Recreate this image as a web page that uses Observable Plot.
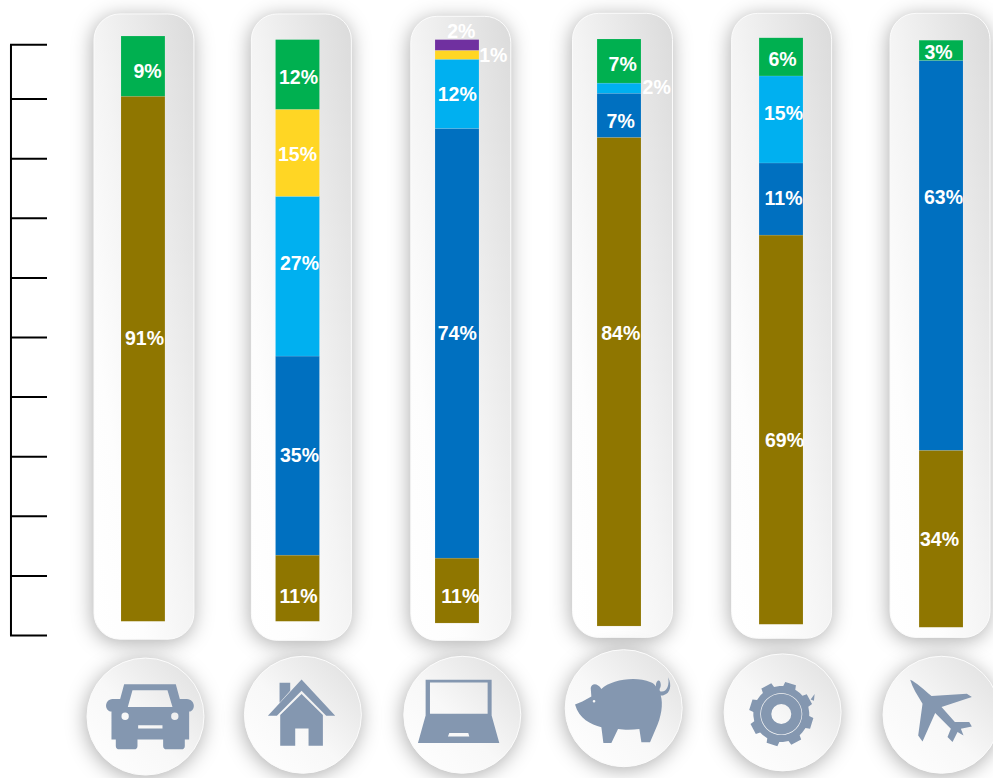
<!DOCTYPE html>
<html>
<head>
<meta charset="utf-8">
<script src="https://cdn.jsdelivr.net/npm/d3@7"></script>
<script src="https://cdn.jsdelivr.net/npm/@observablehq/plot@0.6"></script>
<style>
  html, body { margin: 0; padding: 0; background: #fff; overflow: hidden; }
  g[fill="url(#panelGrad)"] rect, g[fill="url(#badgeGrad)"] circle { filter: drop-shadow(-1px 3px 10px rgba(0,0,0,.32)); }
  g[fill="#8497B0"] path { fill-rule: evenodd; }
</style>
</head>
<body>
<div id="chart"></div>
<script>
// Categories (shown only as icons)
const categories = ["car", "home", "computer", "savings", "services", "travel"];

// Segment heights read against the left scale, bottom to top of each column
const seriesNames = ["series A", "series B", "series C", "series D", "series E", "series F"];
const seriesColors = ["#8F7600", "#0070C0", "#00B0F0", "#FFD624", "#7030A0", "#00B050"];
const baseline = [2.3, 2.3, 2.0, 1.5, 1.8, 1.3];
const seriesA = [88.1, 11.1, 10.9, 82.0, 65.3, 29.7];
const seriesB = [0, 33.4, 72.1, 7.4, 12.1, 65.4];
const seriesC = [0, 26.8, 11.6, 1.7, 14.6, 0];
const seriesD = [0, 14.6, 1.5, 0, 0, 0];
const seriesE = [0, 0, 1.8, 0, 0, 0];
const seriesF = [10.1, 11.7, 0, 7.4, 6.4, 3.4];
const seriesValues = [seriesA, seriesB, seriesC, seriesD, seriesE, seriesF];

// Printed labels per column
const labelText = [
  ["9%", "91%"],
  ["12%", "15%", "27%", "35%", "11%"],
  ["2%", "1%", "12%", "74%", "11%"],
  ["7%", "2%", "7%", "84%"],
  ["6%", "15%", "11%", "69%"],
  ["3%", "63%", "34%"]
];
const labelLevel = [
  [94.6, 49.8],
  [93.5, 80.7, 62.4, 30.2, 6.5],
  [101.3, 97.3, 90.8, 50.7, 6.5],
  [95.8, 91.9, 86.2, 50.7],
  [96.6, 87.6, 73.3, 32.7],
  [97.8, 73.5, 16.1]
];
const labelShift = [
  [4, 1],
  [-4.4, -5.4, -3.4, -3.4, -4.4],
  [-1, 31, -5, -5, -2],
  [1, 35, -1, -1],
  [1.4, 2.4, 2.4, 3.4],
  [-2, 3, -1]
];

// Scale ticks on the left
const tickValues = [0, 10, 20, 30, 40, 50, 60, 70, 80, 90, 99.1];

// Decoration extents, in scale units, and column nudges
const panelTop = [104.2, 104.2, 103.8, 104.3, 104.3, 104.3];
const panelBottom = [-0.7, -0.9, -0.9, -0.4, -0.55, -0.4];
const badgeLevel = [-13.6, -13.3, -13.3, -12.2, -12.9, -13.3];
const barNudge = [0, -4.9, -4.8, -2.2, 0.4, 1];
const panelNudge = [1, -1, -1, 1.3, 1, 0];
const badgeNudge = [2, 0, 0, 2, 1.5, 1];

// Icon glyphs at 3x, with their origin
function gearPath(cx, cy) {
  const pts = [];
  for (let i = 0; i < 8; i++) {
    const a = (-73 + i * 45) * Math.PI / 180, s = Math.PI / 180;
    [[84, -20.5], [84, -13], [97, -10], [97, 10], [84, 13]].forEach(([r, d]) =>
      pts.push([cx + r * Math.cos(a + d * s), cy + r * Math.sin(a + d * s)]));
  }
  return "M" + pts.map(p => p[0].toFixed(1) + " " + p[1].toFixed(1)).join(" L") +
    ` Z O${cx} ${cy} 63 O${cx} ${cy} 61 O${cx} ${cy} 30 M360 296 L372 280 L370 300 Z`;
}
const icons = [
  { o: [254, 349], d: "M190 252 L345 252 L357 296 L378 296 C405 298 405 332 385 334 L385 418 L372 418 L372 437 C372 444 368 447 362 447 L318 447 C311 447 307 444 307 437 L307 418 L230 418 L230 437 C230 444 226 447 220 447 L176 447 C169 447 165 444 165 437 L165 418 L152 418 L152 334 C130 332 130 298 155 296 L178 296 Z M215 270 L320 270 L335 320 L201 320 Z O193 348 11 O342 348 11 M232 375 L305 375 L305 385 L232 385 Z" },
  { o: [728, 344], d: "M724 238 L825 347 L798 347 L724 272 L650 347 L623 347 Z M658 248 L690 248 L690 272 L658 308 Z M724 282 L788 345 L788 437 L745 437 L745 385 L705 385 L705 437 L660 437 L660 345 Z" },
  { o: [244, 343], d: "M134 238 L332 238 L332 345 L355 428 L111 428 L134 345 Z M147 246 L320 246 L320 340 L147 340 Z M205 398 L262 398 L265 408 L201 408 Z" },
  { o: [729, 323], d: "M583 312 L605 303 L632 288 L630 262 C632 248 650 245 662 265 C690 240 760 225 810 245 C818 248 822 252 826 258 C824 240 838 232 840 250 C842 262 834 262 838 272 C856 278 868 255 862 230 C875 255 868 278 850 283 C845 285 842 285 840 285 C848 310 842 350 825 385 L808 425 L782 425 L776 385 C755 388 730 388 712 385 L692 427 L668 427 L662 380 C630 372 595 355 583 312 Z O640 302 4" },
  { o: [276, 335], d: gearPath(272, 340) },
  { o: [752, 343], d: "M658 238 C675 245 700 268 722 287 L828 280 L843 290 L752 320 L792 365 L835 365 L843 378 L810 385 L818 405 L800 395 L785 425 L770 410 L780 385 L733 338 L695 423 L682 405 L695 310 C680 285 665 262 658 238 Z" }
];

function glyph({ o: [ox, oy], d }) {
  const tokens = d.match(/[MLCZO]|-?[\d.]+/g);
  return {
    draw(ctx) {
      let i = 0;
      const X = () => (+tokens[i++] - ox) / 3, Y = () => (+tokens[i++] - oy) / 3;
      let cmd = null;
      while (i < tokens.length) {
        if (/[MLCZO]/.test(tokens[i])) cmd = tokens[i++];
        if (cmd === "M") ctx.moveTo(X(), Y());
        else if (cmd === "L") ctx.lineTo(X(), Y());
        else if (cmd === "C") ctx.bezierCurveTo(X(), Y(), X(), Y(), X(), Y());
        else if (cmd === "Z") { ctx.closePath(); cmd = null; }
        else if (cmd === "O") {
          const cx = X(), cy = Y(), r = +tokens[i++] / 3;
          ctx.moveTo(cx + r, cy); ctx.arc(cx, cy, r, 0, 2 * Math.PI); ctx.closePath();
        }
      }
    }
  };
}

// Tables built from the arrays
const segmentsFor = (j) => {
  let level = baseline[j];
  const out = [];
  seriesNames.forEach((s, k) => {
    const v = seriesValues[k][j];
    if (v > 0) out.push({ cat: categories[j], series: s, y1: level, y2: (level += v) });
  });
  return out;
};

function defs() {
  const svg = d3.create("svg:defs");
  const grad = (id, stops) => {
    const g = svg.append("linearGradient").attr("id", id)
      .attr("x1", 0).attr("y1", 1).attr("x2", 1).attr("y2", 0);
    stops.forEach(([o, c]) => g.append("stop").attr("offset", o).attr("stop-color", c));
  };
  grad("panelGrad", [[0, "#ffffff"], [0.25, "#fdfdfd"], [0.5, "#f4f4f4"], [1, "#dbdbdb"]]);
  grad("badgeGrad", [[0, "#ffffff"], [0.45, "#f8f8f8"], [1, "#dedede"]]);
  return svg.node();
}

const columnMarks = categories.map((cat, j) => [
  Plot.barY([{ cat, lo: panelBottom[j], hi: panelTop[j] }], {
    x: "cat", y1: "lo", y2: "hi", dx: panelNudge[j], rx: 26,
    fill: "url(#panelGrad)", stroke: "#fbfbfb", strokeWidth: 1
  }),
  Plot.dot([{ cat, y: badgeLevel[j] }], {
    x: "cat", y: "y", dx: badgeNudge[j], r: 58.5,
    fill: "url(#badgeGrad)", stroke: "#fbfbfb", strokeWidth: 1
  }),
  Plot.dot([{ cat, y: badgeLevel[j] }], {
    x: "cat", y: "y", dx: badgeNudge[j], r: 40, symbol: glyph(icons[j]),
    fill: "#8497B0", stroke: "none"
  }),
  Plot.barY(segmentsFor(j), {
    x: "cat", y1: "y1", y2: "y2", fill: "series", dx: barNudge[j],
    insetLeft: 28, insetRight: 28, stroke: "#fff", strokeOpacity: 0.2, strokeWidth: 0.5
  }),
  labelText[j].map((text, k) =>
    Plot.text([{ cat, y: labelLevel[j][k], text }], {
      x: "cat", y: "y", text: "text", dx: labelShift[j][k],
      fill: "white", fontSize: 19.5, fontWeight: "bold", fontFamily: "Liberation Sans, Arial, sans-serif"
    })
  )
]);

const chart = Plot.plot({
  width: 993,
  height: 778,
  marginTop: 0, marginBottom: 0, marginRight: 0, marginLeft: 10,
  style: { background: "white", overflow: "hidden" },
  x: { type: "band", domain: categories, range: [93, 990], paddingInner: 0.373, paddingOuter: 0, align: 0.5, round: false, axis: null },
  y: { domain: [0, 100], range: [635, 39], axis: null },
  color: { domain: seriesNames, range: seriesColors },
  marks: [
    defs,
    columnMarks,
    Plot.axisY({ anchor: "left", ticks: tickValues, tickSize: -37, tickFormat: () => "", label: null, stroke: "#000", strokeWidth: 2, strokeOpacity: 1, fontSize: 0 }),
    Plot.ruleX([categories[0]], { x: d => d, y1: 0, y2: 99.1, dx: -132.5, stroke: "#000", strokeWidth: 2 })
  ]
});
document.getElementById("chart").appendChild(chart);
</script>
</body>
</html>
